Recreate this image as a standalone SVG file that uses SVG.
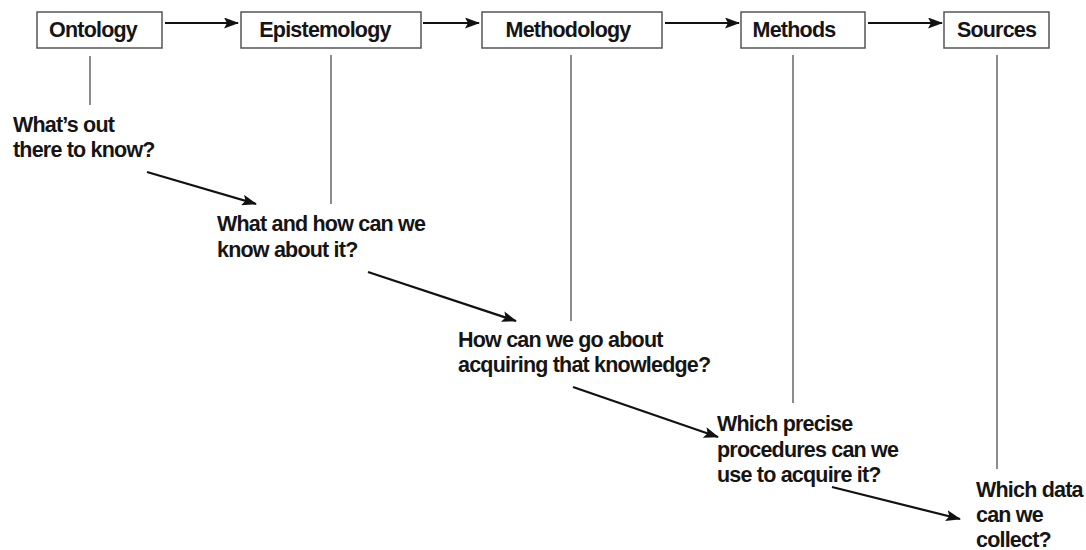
<svg xmlns="http://www.w3.org/2000/svg" width="1086" height="550" viewBox="0 0 1086 550">
<defs>
<marker id="ah" markerUnits="userSpaceOnUse" markerWidth="15" markerHeight="11" refX="14" refY="5.5" orient="auto">
<path d="M0,0 L15,5.5 L0,11 L3,5.5 Z" fill="#111"/>
</marker>
<style>
.box{fill:#fff;stroke:#555;stroke-width:1.5}
.bt{font-family:"Liberation Sans",Arial,sans-serif;font-weight:bold;font-size:21.5px;letter-spacing:-0.8px;fill:#151515}
.lt{font-family:"Liberation Sans",Arial,sans-serif;font-weight:bold;font-size:21.5px;letter-spacing:-0.8px;fill:#151515}
.vl{stroke:#666;stroke-width:1.5;fill:none}
.ar{stroke:#111;stroke-width:2.2;fill:none;marker-end:url(#ah)}
</style>
</defs>
<rect width="1086" height="550" fill="#fff"/>
<g id="ontology">
<rect class="box" x="37" y="12" width="125" height="36"/>
<text class="bt" x="93" y="37" text-anchor="middle">Ontology</text>
</g>
<g id="epistemology">
<rect class="box" x="241" y="12" width="180" height="36"/>
<text class="bt" x="325" y="37" text-anchor="middle">Epistemology</text>
</g>
<g id="methodology">
<rect class="box" x="482" y="12" width="180" height="36"/>
<text class="bt" x="568" y="37" text-anchor="middle">Methodology</text>
</g>
<g id="methods">
<rect class="box" x="741" y="12" width="124" height="36"/>
<text class="bt" x="794" y="37" text-anchor="middle">Methods</text>
</g>
<g id="sources">
<rect class="box" x="944" y="12" width="105" height="36"/>
<text class="bt" x="996.5" y="37" text-anchor="middle">Sources</text>
</g>
<g id="q1">
<text class="lt" x="13" y="132">What’s out</text>
<text class="lt" x="13" y="157">there to know?</text>
</g>
<g id="q2">
<text class="lt" x="217" y="231">What and how can we</text>
<text class="lt" x="217" y="257">know about it?</text>
</g>
<g id="q3">
<text class="lt" x="458" y="347">How can we go about</text>
<text class="lt" x="458" y="372">acquiring that knowledge?</text>
</g>
<g id="q4">
<text class="lt" x="717" y="431">Which precise</text>
<text class="lt" x="717" y="457">procedures can we</text>
<text class="lt" x="717" y="482">use to acquire it?</text>
</g>
<g id="q5">
<text class="lt" x="976" y="497">Which data</text>
<text class="lt" x="976" y="522">can we</text>
<text class="lt" x="976" y="547">collect?</text>
</g>
<g id="connectors">
<line class="ar" x1="165" y1="23" x2="238" y2="23"/>
<line class="ar" x1="423" y1="23" x2="479" y2="23"/>
<line class="ar" x1="665" y1="23" x2="739" y2="23"/>
<line class="ar" x1="868" y1="23" x2="942" y2="23"/>
<line class="vl" x1="90" y1="56" x2="90" y2="105"/>
<line class="vl" x1="331" y1="55" x2="331" y2="204"/>
<line class="vl" x1="571" y1="55" x2="571" y2="321"/>
<line class="vl" x1="793" y1="55" x2="793" y2="403"/>
<line class="vl" x1="997" y1="55" x2="997" y2="469"/>
<line class="ar" x1="147" y1="172" x2="256" y2="204"/>
<line class="ar" x1="368" y1="272" x2="516" y2="321"/>
<line class="ar" x1="573" y1="387" x2="718" y2="437"/>
<line class="ar" x1="832" y1="487" x2="960" y2="519"/>
</g>
</svg>
